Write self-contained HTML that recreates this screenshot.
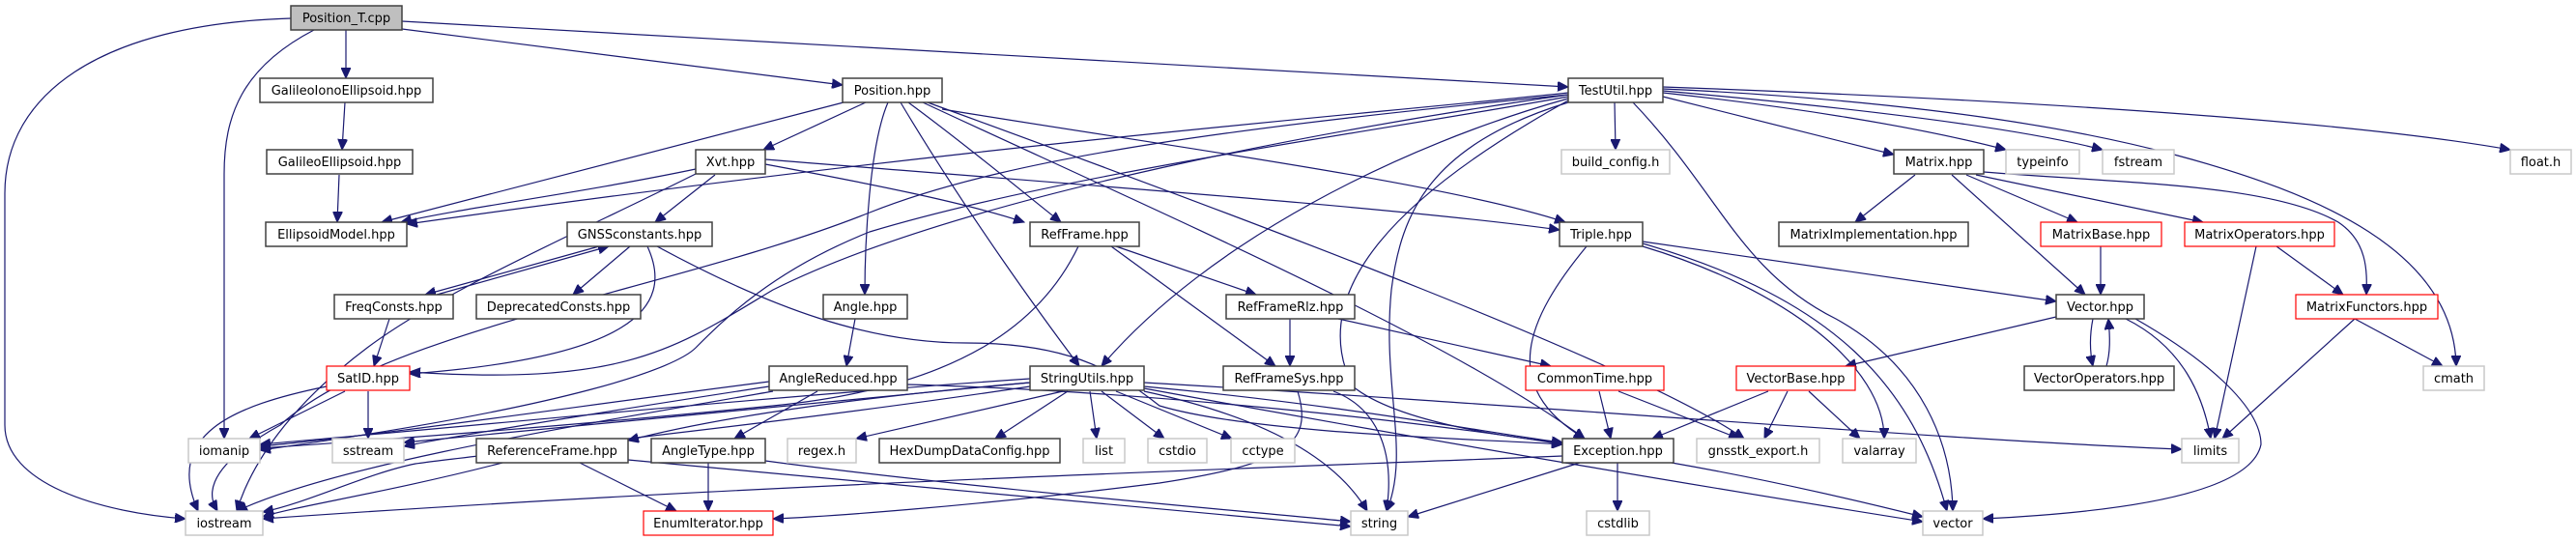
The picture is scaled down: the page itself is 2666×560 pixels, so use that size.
<!DOCTYPE html>
<html><head><meta charset="utf-8"><style>
html,body{margin:0;padding:0;background:#fff;}
svg{display:block;}
text{font-family:"DejaVu Sans","Liberation Sans",sans-serif;font-size:13px;fill:#000;}
.e{fill:none;stroke:#191970;stroke-width:1.2;marker-end:url(#a);}
.n{fill:#fff;stroke:#404040;stroke-width:1.5;}
.g{fill:#fff;stroke:#c8c8c8;stroke-width:1.5;}
.r{fill:#fff;stroke:#ff0000;stroke-width:1.2;}
</style></head><body>
<svg width="2666" height="560" viewBox="0 0 2666 560" xmlns="http://www.w3.org/2000/svg">
<defs><marker id="a" markerUnits="userSpaceOnUse" markerWidth="12" markerHeight="10" refX="11" refY="5" orient="auto"><path d="M0,0 L11,5 L0,10 z" fill="#191970" stroke="#191970"/></marker></defs>
<g>
<path class="e" d="M358,31 L358,81"/>
<path class="e" d="M325,31 C250,70 232,120 232,180 L232,454"/>
<path class="e" d="M416,30 L872,88"/>
<path class="e" d="M416,22 L1623,90"/>
<path class="e" d="M301,19 C100,25 5,100 5,200 L5,440 C5,500 100,530 192,537"/>
<path class="e" d="M357,106 L354,155"/>
<path class="e" d="M351,181 L349,230"/>
<path class="e" d="M873,106 L395,230"/>
<path class="e" d="M896,106 L790,155"/>
<path class="e" d="M919,106 C900,150 895,250 895,305"/>
<path class="e" d="M932,106 C1000,220 1080,330 1117,379"/>
<path class="e" d="M940,106 C1000,150 1060,200 1098,230"/>
<path class="e" d="M975,113 C1200,150 1500,190 1620,230"/>
<path class="e" d="M955,106 C1200,220 1500,350 1640,454"/>
<path class="e" d="M960,106 C1300,230 1700,380 1805,454"/>
<path class="e" d="M720,175 C600,200 480,215 415,230"/>
<path class="e" d="M740,181 L678,230"/>
<path class="e" d="M792,170 C900,190 1000,210 1060,230"/>
<path class="e" d="M792,165 C1100,190 1450,215 1614,238"/>
<path class="e" d="M720,180 C600,240 460,300 380,360 C300,420 260,480 245,529"/>
<path class="e" d="M652,255 L593,305"/>
<path class="e" d="M620,255 L440,305"/>
<path class="e" d="M452,305 L630,255"/>
<path class="e" d="M403,330 L387,379"/>
<path class="e" d="M670,255 C700,320 650,370 424,387"/>
<path class="e" d="M680,255 C800,320 900,355 1000,355 C1100,355 1150,380 1200,420 C1300,450 1550,455 1617,460"/>
<path class="e" d="M357,405 L258,454"/>
<path class="e" d="M381,405 L381,454"/>
<path class="e" d="M338,400 C240,420 170,450 205,529"/>
<path class="e" d="M885,330 L876,379"/>
<path class="e" d="M846,405 L760,454"/>
<path class="e" d="M796,395 C600,420 400,450 269,462"/>
<path class="e" d="M796,400 C600,430 450,455 418,462"/>
<path class="e" d="M800,405 C600,440 350,480 245,529"/>
<path class="e" d="M939,398 C1200,405 1500,440 1617,460"/>
<path class="e" d="M733,479 L733,529"/>
<path class="e" d="M792,477 C1000,505 1300,530 1398,540"/>
<path class="e" d="M1116,255 C1080,330 1000,400 800,420 C600,440 400,455 269,464"/>
<path class="e" d="M1150,255 L1320,379"/>
<path class="e" d="M1155,255 L1300,305"/>
<path class="e" d="M1335,330 L1335,379"/>
<path class="e" d="M1385,330 L1605,379"/>
<path class="e" d="M1343,405 C1360,460 1330,480 1200,500 C1000,525 850,535 800,537"/>
<path class="e" d="M1380,405 C1420,420 1445,460 1435,529"/>
<path class="e" d="M520,479 C400,510 300,525 272,535"/>
<path class="e" d="M600,479 L700,529"/>
<path class="e" d="M650,476 C900,500 1250,530 1398,545"/>
<path class="e" d="M1100,405 L886,454"/>
<path class="e" d="M1105,405 L1030,454"/>
<path class="e" d="M1128,405 L1135,454"/>
<path class="e" d="M1140,405 L1205,454"/>
<path class="e" d="M1155,405 L1275,454"/>
<path class="e" d="M1066,392 C800,410 500,440 269,460"/>
<path class="e" d="M1066,396 C800,420 550,445 418,458"/>
<path class="e" d="M1066,400 C800,440 500,470 430,480 C380,490 320,520 272,530"/>
<path class="e" d="M1184,405 C1300,430 1380,470 1415,529"/>
<path class="e" d="M1184,400 C1400,420 1550,450 1617,458"/>
<path class="e" d="M1184,396 C1600,420 2000,455 2258,465"/>
<path class="e" d="M1184,402 C1500,460 1800,510 1990,540"/>
<path class="e" d="M1066,396 C900,410 750,430 650,456"/>
<path class="e" d="M1671,106 L1672,155"/>
<path class="e" d="M1721,100 L1960,160"/>
<path class="e" d="M1721,96 C1850,110 1980,130 2076,155"/>
<path class="e" d="M1721,94 C1900,110 2080,130 2176,155"/>
<path class="e" d="M1721,90 C2000,100 2400,120 2598,155"/>
<path class="e" d="M1721,92 C1900,100 2100,120 2250,160 C2400,200 2540,260 2542,379"/>
<path class="e" d="M1690,106 C1780,200 1800,280 1900,330 C1990,380 2020,460 2021,529"/>
<path class="e" d="M1623,106 C1480,150 1450,220 1440,300 C1430,400 1460,470 1435,529"/>
<path class="e" d="M1623,102 C1450,150 1250,250 1140,379"/>
<path class="e" d="M1623,100 C1400,140 1100,180 900,240 C800,280 750,330 720,360 C700,380 600,420 269,466"/>
<path class="e" d="M1623,96 C1400,120 1000,150 421,232"/>
<path class="e" d="M1623,98 C1400,130 1000,200 800,300 C700,360 650,400 424,385"/>
<path class="e" d="M1623,104 C1450,200 1350,300 1400,400 C1450,440 1580,455 1617,458"/>
<path class="e" d="M1623,98 C1300,130 1050,160 900,220 C700,300 400,340 290,440 C200,490 220,520 225,529"/>
<path class="e" d="M1982,181 L1920,230"/>
<path class="e" d="M2020,181 L2158,305"/>
<path class="e" d="M2035,181 L2150,230"/>
<path class="e" d="M2045,181 L2280,230"/>
<path class="e" d="M2053,178 C2200,190 2350,190 2420,230 C2450,250 2450,280 2449,305"/>
<path class="e" d="M2174,255 L2174,305"/>
<path class="e" d="M2335,255 L2292,454"/>
<path class="e" d="M2356,255 L2425,305"/>
<path class="e" d="M2437,330 L2528,379"/>
<path class="e" d="M2437,330 L2300,454"/>
<path class="e" d="M2166,330 C2162,350 2163,365 2166,379"/>
<path class="e" d="M2180,379 C2184,365 2184,350 2182,330"/>
<path class="e" d="M2128,328 L1910,379"/>
<path class="e" d="M2200,330 C2260,360 2280,410 2288,454"/>
<path class="e" d="M2210,330 C2280,370 2340,420 2340,460 C2330,510 2200,530 2052,537"/>
<path class="e" d="M1700,250 C1900,280 2050,300 2128,312"/>
<path class="e" d="M1700,255 C1850,300 1950,380 1950,454"/>
<path class="e" d="M1700,252 C1900,310 1980,400 2015,529"/>
<path class="e" d="M1642,255 C1580,330 1550,400 1640,454"/>
<path class="e" d="M1655,405 L1667,454"/>
<path class="e" d="M1675,405 L1800,454"/>
<path class="e" d="M1830,405 L1710,454"/>
<path class="e" d="M1850,405 L1826,454"/>
<path class="e" d="M1872,405 L1925,454"/>
<path class="e" d="M1674,479 L1674,529"/>
<path class="e" d="M1635,479 L1457,535"/>
<path class="e" d="M1730,479 C1850,500 1950,525 1990,535"/>
<path class="e" d="M1617,472 C1300,485 800,500 272,537"/>
</g>
<g>
<rect x="301" y="6" width="115" height="25" fill="#bfbfbf" stroke="#404040" stroke-width="1.5"/><text x="358.5" y="23" text-anchor="middle">Position_T.cpp</text>
<rect class="n" x="269" y="81" width="179" height="25"/><text x="358.5" y="98" text-anchor="middle">GalileoIonoEllipsoid.hpp</text>
<rect class="n" x="276" y="155" width="151" height="25"/><text x="351.5" y="172" text-anchor="middle">GalileoEllipsoid.hpp</text>
<rect class="n" x="275" y="230" width="146" height="25"/><text x="348" y="247" text-anchor="middle">EllipsoidModel.hpp</text>
<rect class="n" x="587" y="230" width="150" height="25"/><text x="662" y="247" text-anchor="middle">GNSSconstants.hpp</text>
<rect class="n" x="346" y="305" width="123" height="25"/><text x="407.5" y="322" text-anchor="middle">FreqConsts.hpp</text>
<rect class="n" x="493" y="305" width="170" height="25"/><text x="578" y="322" text-anchor="middle">DeprecatedConsts.hpp</text>
<rect class="r" x="338" y="379" width="86" height="25"/><text x="381" y="396" text-anchor="middle">SatID.hpp</text>
<rect class="g" x="195" y="454" width="74" height="25"/><text x="232" y="471" text-anchor="middle">iomanip</text>
<rect class="g" x="344" y="454" width="74" height="25"/><text x="381" y="471" text-anchor="middle">sstream</text>
<rect class="n" x="493" y="454" width="157" height="25"/><text x="571.5" y="471" text-anchor="middle">ReferenceFrame.hpp</text>
<rect class="g" x="192" y="529" width="80" height="25"/><text x="232" y="546" text-anchor="middle">iostream</text>
<rect class="r" x="666" y="529" width="134" height="25"/><text x="733" y="546" text-anchor="middle">EnumIterator.hpp</text>
<rect class="n" x="872" y="81" width="103" height="25"/><text x="923.5" y="98" text-anchor="middle">Position.hpp</text>
<rect class="n" x="720" y="155" width="72" height="25"/><text x="756" y="172" text-anchor="middle">Xvt.hpp</text>
<rect class="n" x="852" y="305" width="87" height="25"/><text x="895.5" y="322" text-anchor="middle">Angle.hpp</text>
<rect class="n" x="1066" y="230" width="113" height="25"/><text x="1122.5" y="247" text-anchor="middle">RefFrame.hpp</text>
<rect class="n" x="1269" y="305" width="133" height="25"/><text x="1335.5" y="322" text-anchor="middle">RefFrameRlz.hpp</text>
<rect class="n" x="796" y="379" width="143" height="25"/><text x="867.5" y="396" text-anchor="middle">AngleReduced.hpp</text>
<rect class="n" x="1066" y="379" width="118" height="25"/><text x="1125" y="396" text-anchor="middle">StringUtils.hpp</text>
<rect class="n" x="1266" y="379" width="136" height="25"/><text x="1334" y="396" text-anchor="middle">RefFrameSys.hpp</text>
<rect class="n" x="674" y="454" width="118" height="25"/><text x="733" y="471" text-anchor="middle">AngleType.hpp</text>
<rect class="g" x="815" y="454" width="71" height="25"/><text x="850.5" y="471" text-anchor="middle">regex.h</text>
<rect class="n" x="910" y="454" width="187" height="25"/><text x="1003.5" y="471" text-anchor="middle">HexDumpDataConfig.hpp</text>
<rect class="g" x="1121" y="454" width="43" height="25"/><text x="1142.5" y="471" text-anchor="middle">list</text>
<rect class="g" x="1188" y="454" width="61" height="25"/><text x="1218.5" y="471" text-anchor="middle">cstdio</text>
<rect class="g" x="1274" y="454" width="66" height="25"/><text x="1307" y="471" text-anchor="middle">cctype</text>
<rect class="n" x="1623" y="81" width="98" height="25"/><text x="1672" y="98" text-anchor="middle">TestUtil.hpp</text>
<rect class="g" x="1616" y="155" width="112" height="25"/><text x="1672" y="172" text-anchor="middle">build_config.h</text>
<rect class="n" x="1960" y="155" width="93" height="25"/><text x="2006.5" y="172" text-anchor="middle">Matrix.hpp</text>
<rect class="n" x="1614" y="230" width="86" height="25"/><text x="1657" y="247" text-anchor="middle">Triple.hpp</text>
<rect class="n" x="1841" y="230" width="196" height="25"/><text x="1939" y="247" text-anchor="middle">MatrixImplementation.hpp</text>
<rect class="r" x="1579" y="379" width="143" height="25"/><text x="1650.5" y="396" text-anchor="middle">CommonTime.hpp</text>
<rect class="r" x="1797" y="379" width="123" height="25"/><text x="1858.5" y="396" text-anchor="middle">VectorBase.hpp</text>
<rect class="n" x="1617" y="454" width="115" height="25"/><text x="1674.5" y="471" text-anchor="middle">Exception.hpp</text>
<rect class="g" x="1756" y="454" width="127" height="25"/><text x="1819.5" y="471" text-anchor="middle">gnsstk_export.h</text>
<rect class="g" x="1907" y="454" width="76" height="25"/><text x="1945" y="471" text-anchor="middle">valarray</text>
<rect class="g" x="1398" y="529" width="59" height="25"/><text x="1427.5" y="546" text-anchor="middle">string</text>
<rect class="g" x="1642" y="529" width="65" height="25"/><text x="1674.5" y="546" text-anchor="middle">cstdlib</text>
<rect class="g" x="2076" y="155" width="76" height="25"/><text x="2114" y="172" text-anchor="middle">typeinfo</text>
<rect class="g" x="2176" y="155" width="74" height="25"/><text x="2213" y="172" text-anchor="middle">fstream</text>
<rect class="g" x="2598" y="155" width="63" height="25"/><text x="2629.5" y="172" text-anchor="middle">float.h</text>
<rect class="r" x="2112" y="230" width="125" height="25"/><text x="2174.5" y="247" text-anchor="middle">MatrixBase.hpp</text>
<rect class="r" x="2261" y="230" width="155" height="25"/><text x="2338.5" y="247" text-anchor="middle">MatrixOperators.hpp</text>
<rect class="n" x="2128" y="305" width="91" height="25"/><text x="2173.5" y="322" text-anchor="middle">Vector.hpp</text>
<rect class="r" x="2376" y="305" width="147" height="25"/><text x="2449.5" y="322" text-anchor="middle">MatrixFunctors.hpp</text>
<rect class="n" x="2095" y="379" width="155" height="25"/><text x="2172.5" y="396" text-anchor="middle">VectorOperators.hpp</text>
<rect class="g" x="2508" y="379" width="63" height="25"/><text x="2539.5" y="396" text-anchor="middle">cmath</text>
<rect class="g" x="2258" y="454" width="59" height="25"/><text x="2287.5" y="471" text-anchor="middle">limits</text>
<rect class="g" x="1990" y="529" width="62" height="25"/><text x="2021" y="546" text-anchor="middle">vector</text>
</g>
</svg>
</body></html>
